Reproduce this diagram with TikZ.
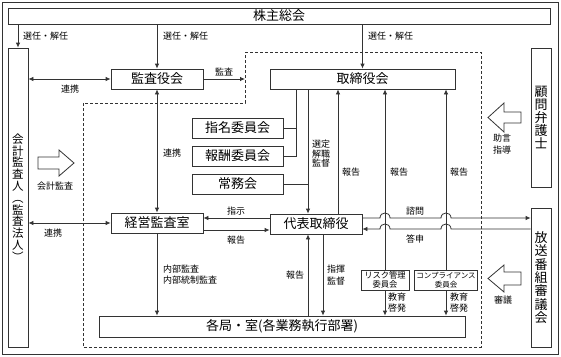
\documentclass[tikz,border=0pt]{standalone}
\usepackage{fontspec}
\setmainfont{Noto Sans CJK JP}
\usetikzlibrary{arrows.meta}

\begin{document}
\begin{tikzpicture}[x=1pt,y=-1pt,
    box/.style={draw=black!80, line width=0.8pt, fill=white, inner sep=0pt, font=\fontsize{13}{13}\selectfont},
    vbox/.style={box, minimum width=20pt, align=center},
    lbl/.style={font=\fontsize{9}{9.5}\selectfont, inner sep=0pt, align=center},
    ln/.style={draw=black!80, line width=0.8pt},
    arr/.style={ln, -{Latex[length=5pt,width=4.5pt]}},
    dbl/.style={ln, {Latex[length=5pt,width=4.5pt]}-{Latex[length=5pt,width=4.5pt]}}]

        \useasboundingbox (0,0) rectangle (561,356);
        \draw[ln] (2,2) rectangle (558,354);

        % Bereich (gestrichelt)
        \draw[ln, dash pattern=on 3pt off 2pt] (245,52) -- (481,52) -- (481,347) -- (83,347) -- (83,103) -- (245,103) -- cycle;

        % Kästen
        \node[box, minimum width=542pt, minimum height=16pt] (sh) at (279,16) {株主総会};
        \node[vbox, minimum height=299pt, font=\fontsize{11.5}{11.8}\selectfont] (aud) at (18,197.5) {会\\計\\監\\査\\人\\︵\\監\\査\\法\\人\\︶};
        \node[vbox, minimum height=139pt, font=\fontsize{13}{12.8}\selectfont] (komon) at (541,117.5) {顧\\問\\弁\\護\\士};
        \node[vbox, minimum height=139pt, font=\fontsize{13}{13.3}\selectfont] (hoso) at (541,277.5) {放\\送\\番\\組\\審\\議\\会};
        \node[box, minimum width=92pt, minimum height=20pt] (kan) at (157,79) {監査役会};
        \node[box, minimum width=185pt, minimum height=20pt] (tori) at (362.5,79) {取締役会};
        \node[box, minimum width=91pt, minimum height=20pt] (shimei) at (237.5,128) {指名委員会};
        \node[box, minimum width=91pt, minimum height=20pt] (hoshu) at (237.5,156) {報酬委員会};
        \node[box, minimum width=91pt, minimum height=20pt] (jomu) at (237.5,184) {常務会};
        \node[box, minimum width=92pt, minimum height=20pt] (keiei) at (157,223) {経営監査室};
        \node[box, minimum width=92pt, minimum height=20pt] (daihyo) at (316,224) {代表取締役};
        \node[box, minimum width=48pt, minimum height=20pt, align=center, font=\fontsize{8.3}{9.5}\selectfont] (risk) at (385,280) {リスク管理\\委員会};
        \node[box, minimum width=63pt, minimum height=20pt, align=center, font=\fontsize{7.5}{9.5}\selectfont] (comp) at (446,280) {コンプライアンス\\委員会};
        \node[box, minimum width=366pt, minimum height=21pt] (kaku) at (282,326.5) {各局・室(各業務執行部署)};

        % Wahl
        \draw[arr] (sh.south -| aud.north) -- (aud.north);
        \draw[arr] (sh.south -| kan.north) -- (kan.north);
        \draw[arr] (sh.south -| tori.north) -- (tori.north);
        \node[lbl, anchor=west] (w1) at (23,36) {選任・解任};
        \node[lbl, anchor=west] (w2) at (163,36) {選任・解任};
        \node[lbl, anchor=west] (w3) at (368,36) {選任・解任};

        % Kooperation
        \draw[dbl] (aud.east |- kan.west) -- (kan.west);
        \node[lbl] (k1) at (70,89) {連携};
        \draw[dbl] (kan.south) -- (keiei.north);
        \node[lbl] (k2) at (172,153) {連携};
        \draw[dbl] (aud.east |- keiei.west) -- (keiei.west);
        \node[lbl] (k3) at (53,233) {連携};
        \coordinate (dz) at (245,79);
        \draw[arr] (kan.east) -- (dz);
        \node[lbl] (k4) at (224,72) {監査};

        % Ausschüsse
        \coordinate (j1) at (296,89);
        \coordinate (j2) at (308,89);
        \draw[ln] (shimei.east) -- (shimei.east -| j1);
        \draw[ln] (j1) |- (hoshu.east);
        \draw[ln] (jomu.east) -- (jomu.east -| j2);
        \draw[arr] (j2) -- (j2 |- daihyo.north);
        \node[lbl] (s1) at (321,154) {選定\\解職\\監督};

        % Berichte
        \draw[arr] (daihyo.north -| 338,0) -- (tori.south -| 338,0);
        \node[lbl] (h1) at (351,172) {報告};
        \draw[arr] (risk.north) -- (risk.north |- tori.south);
        \node[lbl] (h2) at (399,172) {報告};
        \draw[arr] (comp.north) -- (comp.north |- tori.south);
        \node[lbl] (h3) at (459,172) {報告};

        % Leitung
        \draw[arr] (daihyo.west |- 0,218) -- (keiei.east |- 0,218);
        \node[lbl] (i1) at (236,211) {指示};
        \draw[arr] (keiei.east |- 0,230) -- (daihyo.west |- 0,230);
        \node[lbl] (i2) at (236,240) {報告};
        \draw[arr] (keiei.south) -- (keiei.south |- kaku.north);
        \node[lbl, anchor=west, align=left, font=\fontsize{9}{11}\selectfont] (n1) at (163,275) {内部監査\\内部統制監査};
        \draw[arr] (kaku.north -| 308,0) -- (daihyo.south -| 308,0);
        \node[lbl] (n2) at (295,275) {報告};
        \draw[arr] (daihyo.south -| 323,0) -- (kaku.north -| 323,0);
        \node[lbl, font=\fontsize{9}{12}\selectfont] (n3) at (336,275) {指揮\\監督};
        \draw[arr] (risk.south) -- (risk.south |- kaku.north);
        \node[lbl, font=\fontsize{9}{11}\selectfont] (e1) at (397,303) {教育\\啓発};
        \draw[arr] (comp.south) -- (comp.south |- kaku.north);
        \node[lbl, font=\fontsize{9}{11}\selectfont] (e2) at (459,303) {教育\\啓発};

        % Anfrage und Antwort
        \draw[arr] (daihyo.east |- 0,218) -- (380,218) .. controls (380,211.3) and (390,211.3) .. (390,218)
            -- (441,218) .. controls (441,211.3) and (451,211.3) .. (451,218) -- (hoso.west |- 0,218);
        \node[lbl] (a1) at (415,211) {諮問};
        \draw[arr] (hoso.west |- 0,229) -- (451,229) .. controls (451,222.3) and (441,222.3) .. (441,229)
            -- (390,229) .. controls (390,222.3) and (380,222.3) .. (380,229) -- (daihyo.east |- 0,229);
        \node[lbl] (a2) at (415,239) {答申};

        % Blockpfeile
        \draw[ln, fill=white] (38,157) -- (59,157) -- (59,150) -- (74,163) -- (59,176) -- (59,169) -- (38,169) -- cycle;
        \node[lbl] (p1) at (55,186) {会計監査};
        \draw[ln, fill=white] (521,112) -- (504,112) -- (504,103) -- (488,117.5) -- (504,132) -- (504,123) -- (521,123) -- cycle;
        \node[lbl, font=\fontsize{9}{12}\selectfont] (p2) at (502,144) {助言\\指導};
        \draw[ln, fill=white] (521,272) -- (504,272) -- (504,265) -- (488,278.5) -- (504,292) -- (504,285) -- (521,285) -- cycle;
        \node[lbl] (p3) at (503,300) {審議};

    \end{tikzpicture}
\end{document}
